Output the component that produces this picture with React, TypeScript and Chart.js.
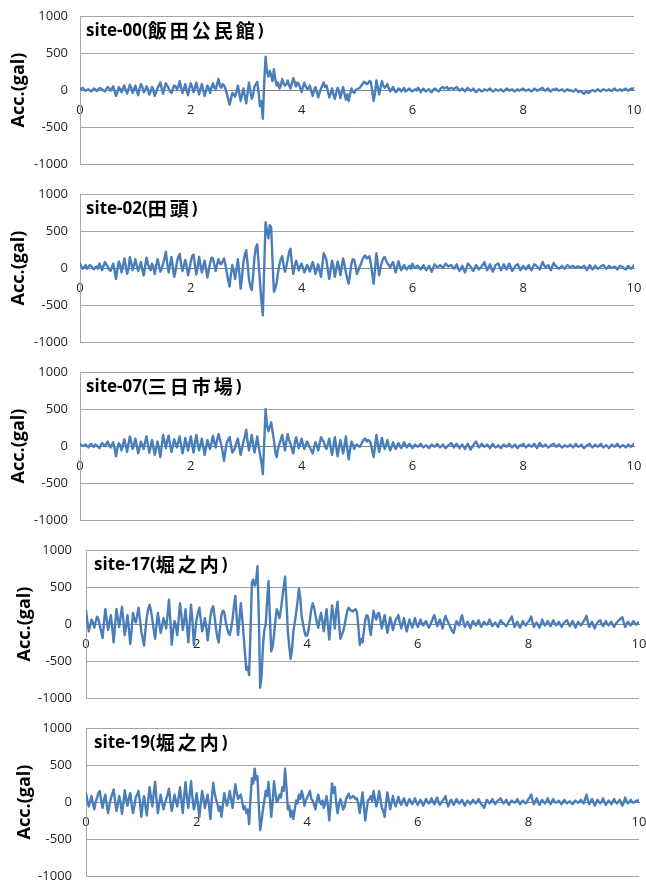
import React, { useEffect, useRef } from "react";
import { Chart, registerables } from "chart.js";

Chart.register(...registerables);

// sample interval of the records (s)
const DT = 0.025;
const X_MIN = 0;
const X_MAX = 10;
const X_STEP = 2;
const Y_MIN = -1000;
const Y_MAX = 1000;
const Y_STEP = 500;
const Y_TITLE = "Acc.(gal)";

const SITE_NAMES = [
  "site-00(飯田公民館)",
  "site-02(田頭)",
  "site-07(三日市場)",
  "site-17(堀之内)",
  "site-19(堀之内)",
];

// acceleration (gal), one value every DT seconds from 0 to 10 s (one row per second)
const SITE00 = [
  0, 20, 30, 5, -10, 0, 10, -5, -20, 0, 20, 10, -15, 5, 25, 20, 10, -10, -20, 15, 40, 25, -10, 20, 50, -20, -80, -30, 40, 10, -30, 20, 60, 0, -50, 10, 70, 30, -40, 10,
  60, -10, -70, 20, 80, 40, -30, -10, 50, 10, -60, -20, 40, 0, -80, -30, 30, 60, 100, 20, -50, 30, 90, 60, 20, -20, -40, 10, 60, 50, 10, 40, 120, 30, -40, 20, 80, -10, -70, 30,
  90, 40, -30, 30, 100, 10, -60, 20, 80, -10, -80, -10, 60, 20, -40, 40, 90, 30, 10, 80, 150, 60, 30, 80, 60, 20, -50, -120, -200, -120, -40, -60, -90, -20, 60, -40, -150, -60, 20, -80,
  -180, -40, 100, -20, -120, -60, 50, 80, 110, -40, -220, -150, -390, 100, 450, 250, 180, 260, 200, 120, 280, 150, 60, 100, 20, 60, 150, 90, 60, 80, 130, 60, 20, 90, 160, 110, 50, 100, 80, 30,
  -30, 40, 100, 50, 10, 20, 60, -20, -80, -10, 40, -30, -100, -40, 20, 60, 100, 40, 60, -20, -100, -50, 20, -60, -120, -40, 30, -20, -110, -30, 40, -50, -130, -60, -150, -60, 20, -20, -40, 0,
  10, 20, 30, 60, 80, 110, 100, 80, 90, 120, 110, -20, -150, -40, 130, 40, -60, 30, 120, 60, 30, 50, 80, 20, -20, 10, 40, 0, -30, -10, 20, 10, -20, 0, 30, -20, -10, 10, 20, -10,
  -20, 0, 10, -10, 30, 10, -30, 0, 20, -10, -20, 0, 10, -20, -30, 0, 20, 10, -10, -20, 10, 30, 40, 20, 30, 40, 10, 20, 30, 20, 10, 30, 40, 10, -10, 10, 20, 0, -20, 10,
  30, 10, -10, 0, 20, -10, -30, -10, 10, 0, -20, -10, 10, 0, -10, 10, 20, 0, -20, -10, 10, 0, -10, 0, 10, -10, -20, 0, 20, 10, -10, 0, 10, -10, -20, 0, 10, -10, 0, 10,
  20, 0, -10, 0, 10, -10, -20, 0, 20, 10, -10, 0, 10, 20, 30, 0, -10, 10, 20, -10, -20, 0, 10, 0, 20, 0, -10, 0, 10, -10, -20, 0, 10, -10, 0, -10, -20, -10, 10, -10,
  -30, -10, -20, -40, -50, -30, -20, -40, -30, -10, 0, -10, -20, 0, 10, -10, -20, 0, 10, 0, -10, 0, 10, -10, -10, 10, 20, 0, -10, 0, 10, -10, 0, 10, 20, 0, -10, 10, 20, 10, 30,
];

const SITE02 = [
  60, 20, -10, 10, 40, -10, 10, 40, 30, 0, -20, 10, 20, -10, 60, 20, -30, 30, 80, 50, 20, -20, -40, 10, 60, -40, -150, -20, 90, 40, -60, 20, 130, 30, -80, -20, 150, 70, -30, 40,
  120, 30, -40, 20, 80, -20, -100, 20, 140, 60, 0, -30, 60, 10, -80, 30, 120, 40, -50, -10, 60, 130, 220, 60, -60, 40, 150, 20, -120, -40, 80, 150, 190, 50, -40, 30, 110, 20, -100, -20,
  90, 160, 180, 40, -90, 20, 150, 40, -60, 30, 100, -20, -130, -30, 70, 140, 130, 40, -40, 50, 120, 60, 50, 90, 130, 40, -60, -170, -250, -80, 40, -40, -150, -20, 120, -60, -280, -120, 80, 180,
  240, 60, -150, -250, -300, -100, 150, 280, 320, 50, -200, -450, -640, 0, 620, 500, 400, 580, 550, 100, -320, -280, -200, -60, 50, 120, 160, 40, -50, 20, 120, 220, 260, 60, -80, 20, 100, 40, -30, 20,
  60, 0, -60, -10, 40, 0, -50, 20, 80, 10, -80, -20, 50, -40, -120, 40, 200, 160, 100, -40, -150, -20, 100, 20, -120, -20, 90, 10, -100, 20, 130, 40, -60, -150, -210, -80, 60, 120, 110, 20,
  -80, -30, 20, 60, 120, 150, 170, 130, 140, 160, 60, -80, -210, -20, 200, 60, -100, 0, 80, 130, 150, 100, 60, 40, 10, 50, 80, 10, -60, 20, 90, 20, -30, 10, 40, 0, -20, 10, 30, -10,
  60, 20, 0, 20, 30, 0, -20, 10, 40, 0, -30, 0, 30, -10, -50, 0, 50, 30, 10, 20, 40, 20, 0, 30, 60, 40, 20, 30, 40, 10, -10, 20, 50, 0, -40, -10, 30, -20, -60, 0,
  60, 40, 20, -10, -40, 0, 40, 10, -20, 0, 20, 50, 80, 20, -30, 10, 50, 0, -50, -10, 40, 50, 60, 10, -30, 10, 50, 10, -20, 20, 60, 10, -40, -10, 20, 40, 50, 10, -30, 0,
  30, 0, -20, 10, 40, 0, -30, 10, 50, 40, 20, 0, -20, 30, 80, 40, 10, 20, 40, 0, -30, 20, 70, 40, 20, 0, -10, 10, 30, 0, -10, 20, 40, 20, 10, 20, 30, 10, 0, 20,
  20, 10, 0, 20, 30, 0, -30, 10, 40, 10, -20, 0, 30, 10, -10, 0, 20, 30, 40, 10, -10, 10, 30, 10, 0, 10, 20, 0, -20, 10, 30, 20, 10, -10, -20, 10, 30, 0, -10, 10, 40,
];

const SITE07 = [
  30, 10, 0, 10, 20, 0, -20, 10, 30, 0, -10, 20, 10, -10, -30, 10, 40, 20, 0, 30, 60, 10, -20, 20, 50, -40, -140, -30, 40, 10, -60, 20, 90, 10, -80, 30, 130, 50, -40, 20,
  100, 0, -100, -20, 60, 10, -40, 50, 130, 20, -90, -10, 80, -20, -120, -30, 60, -40, -150, 0, 150, 60, -30, 70, 140, 20, -80, 0, 90, 30, -20, 60, 130, 10, -100, -10, 110, 30, -60, 40,
  130, 10, -90, 40, 150, 30, -60, 20, 100, -10, -120, -20, 80, 10, -40, 50, 140, 40, -20, 80, 160, 90, 20, -80, -200, -60, 40, 90, 120, 10, -90, -60, -20, 50, 100, -10, -120, -30, 60, 120,
  220, 60, -60, 40, 150, 20, -90, 20, 130, 0, -120, -220, -380, 50, 500, 280, 200, 260, 320, 200, 80, -80, -150, -40, 30, 90, 150, 40, -60, 60, 160, 80, 30, -40, -100, 20, 120, 40, -30, 30,
  100, 20, -40, 10, 60, 20, -20, -60, -100, -20, 50, 0, -60, 30, 120, 80, 60, -10, -40, 30, 100, -20, -120, 0, 120, -10, -140, -20, 80, -10, -100, 10, 130, -40, -180, -50, 60, 20, -40, 10,
  20, 0, -10, 20, 60, 90, 100, 60, 80, 70, 30, -60, -150, -10, 150, 30, -80, 20, 110, 20, -40, 20, 80, 0, -60, -10, 50, 0, -40, 10, 40, 0, -30, 10, 50, 10, -20, 10, 30, 0,
  -30, 0, 20, 0, -10, 10, 30, 0, -20, 0, 10, -10, -30, 0, 20, 0, -10, 10, 30, 0, -20, 0, 20, -10, -30, -10, 10, 20, 40, 10, -20, 10, 30, 0, -30, 0, 20, -10, -40, 0,
  30, -10, -50, -20, 10, 40, 60, 20, -20, 0, 30, 10, -10, 0, 20, 0, -30, 0, 30, 0, -20, -10, 10, -10, -30, 0, 20, 0, -10, 10, 30, 0, -20, 0, 20, -10, -30, 0, 10, 0,
  30, 0, -20, 0, 20, 0, -10, 10, 30, 0, -30, 10, 40, 10, -10, 0, 20, 0, -20, -10, 10, 20, 30, 0, -10, 10, 20, 0, -20, -10, 10, 0, -10, 0, 20, 0, -20, 0, 30, 0,
  -10, 0, 20, -10, -30, -10, 10, 20, 30, 0, -20, 0, 20, 0, -10, 10, 30, 0, -20, 0, 10, -10, -30, 0, 20, 0, -10, 10, 30, 0, -20, 0, 10, 0, -20, 0, 20, 0, -10, 10, 30,
];

const SITE17 = [
  180, 40, -100, -20, 60, 20, -50, 30, 100, 60, -20, -100, -190, 20, 200, 60, -80, 20, 120, -60, -250, -20, 200, 80, -40, 100, 230, 50, -150, -30, 120, -60, -270, -80, 150, 60, 20, 120, 220, 60,
  -100, -200, -290, -80, 100, 200, 260, 180, 60, -80, -200, -20, 150, 20, -120, -40, 80, 20, -60, 120, 330, 50, -280, -100, 40, -20, -150, 60, 280, 120, -80, 40, 200, -20, -250, 0, 260, 40, -280, -100,
  60, 150, 220, 60, -100, -20, 80, -40, -220, -60, 100, 200, 240, 100, -60, -180, -250, -40, 120, 180, 160, 40, -50, -120, -150, -60, 60, 240, 380, 100, -150, 60, 280, 80, -150, -400, -620, -580, -690, -100,
  560, 600, 520, 560, 780, 100, -860, -700, -300, -80, 0, 300, 580, 100, -370, -300, -150, 50, 200, 150, 80, 200, 350, 500, 640, 300, -100, -300, -470, -350, -100, 20, 150, 300, 480, 350, 100, 0, -100, -160,
  -150, -80, 60, 200, 280, 220, 120, 20, -50, 60, 150, 40, -100, 60, 200, -20, -210, 40, 250, 100, -60, 180, 300, 20, -200, -150, -100, -20, 80, 180, 220, 190, 180, 170, 190, 200, 160, -40, -280, -200,
  -250, -100, 60, 120, 100, -40, -150, 20, 180, 100, 60, 140, 150, 40, -60, 40, 120, 0, -120, -20, 90, 20, -80, -10, 60, 80, 120, 20, -60, 10, 80, -20, -100, -20, 60, 0, -50, 20, 80, 0,
  -40, 10, 60, 0, -20, 20, 40, -10, -50, -10, 30, 80, 120, 40, -30, 20, 60, 0, -60, 40, 110, 60, 20, -20, -60, -100, -120, -30, 40, 10, -20, 60, 120, 30, -40, -10, 30, -10, -60, 0,
  40, 10, -20, 10, 50, 0, -40, 0, 30, 0, -10, 20, 60, 10, -30, 0, 20, -10, -40, 10, 50, 20, 10, -10, -30, 0, 40, 70, 100, 20, -40, 0, 30, -20, -50, -10, 40, 0, -20, 10,
  30, 60, 100, 20, -40, 0, 20, -20, -50, 0, 60, 10, -20, 10, 40, 0, -30, 10, 50, 10, -20, 0, 30, -10, -40, 0, 20, 40, 50, 0, -30, 10, 40, 0, -50, -10, 30, 0, -20, 10,
  40, 70, 110, 20, -40, 0, 30, -20, -60, -10, 20, 40, 50, 0, -30, 10, 40, 0, -20, 10, 30, -10, -40, 0, 20, 40, 60, 80, 90, 20, -40, 0, 30, 0, -20, 10, 40, 10, -10, 10, 30,
];

const SITE19 = [
  120, 20, -60, 10, 80, -20, -100, 0, 60, 120, 150, 20, -80, 30, 100, -40, -150, -30, 50, 110, 170, 20, -120, -40, 80, 0, -160, -20, 160, 40, -50, 60, 120, -30, -150, -50, 60, 100, 150, 0,
  -200, -40, 80, -60, -180, 20, 200, 60, -60, 120, 270, 40, -150, -20, 100, 0, -100, -30, 40, 100, 180, 20, -120, -20, 100, 20, -60, 60, 200, 20, -150, 80, 270, 60, -80, 100, 280, 60, -100, -20,
  120, -40, -200, -20, 150, 40, -80, 20, 100, -60, -230, 40, 260, 120, 40, -20, -120, -60, -200, -40, 120, 20, -50, 40, 150, 30, -80, 80, 240, 120, 40, 80, 100, 0, -100, -60, -150, -100, -300, 50,
  320, 250, 450, 300, 350, -50, -380, -250, -100, 20, 150, 80, 270, 50, -200, 0, 280, 120, 0, 30, 100, 60, 200, 150, 450, 200, -100, -50, -200, -120, -230, -100, 20, -20, 100, 40, 150, 80, -50, 20,
  60, 100, 150, 40, 20, -40, -100, 20, 100, 10, -30, 20, -80, -20, 80, -60, -250, 0, 250, 120, 200, -20, -150, -30, 40, -20, -100, -60, 30, 80, 110, 50, 60, 80, 70, 40, 50, -30, -150, -20,
  130, -60, -250, -100, 20, 40, 80, 10, 150, 40, -60, 20, 150, 40, -80, -120, -200, -20, 130, 20, -100, -10, 80, 0, -60, 10, 70, 0, -40, 10, 50, -10, -50, 0, 40, 0, -30, 10, 50, 0,
  -40, 0, 30, -10, -50, 0, 40, 0, -20, 10, 50, 0, -30, 20, 60, 0, -40, -10, 20, 40, 80, 0, -60, -10, 30, 0, -40, 0, 40, 10, -20, 0, 30, -10, -50, -10, 20, 0, -30, 0,
  30, 0, -20, 10, 40, 0, -30, -50, -80, -20, 30, 0, -20, 10, 40, 0, -30, 0, 20, 30, 50, 10, -20, 0, 30, -10, -40, 0, 20, 0, -10, 10, 40, 0, -30, 0, 20, 0, -20, 0,
  40, 60, 100, 20, -30, 10, 50, 0, -40, 0, 30, 0, -20, 10, 50, 0, -30, 10, 40, 0, -10, 0, 20, -10, -30, 0, 30, 0, -20, 0, 10, -10, -30, 0, 20, 0, -10, 10, 30, 0,
  -20, 40, 100, 20, -30, 0, 40, 0, -50, -10, 30, 0, -20, 10, 50, 0, -40, -10, 20, 0, -30, 10, 40, 0, -20, 0, 30, -10, -50, 0, 60, 10, -20, 0, 30, 0, -10, 0, 20, 10, 30,
];

const SERIES = [SITE00, SITE02, SITE07, SITE17, SITE19];

// ---- layout / style (not data) ----
const PAGE_W = 646;
const PAGE_H = 883;
const CANVAS_W = 660;
const PAD_V = 24;
const LINE_COLOR = "#4a7ebb";
const GRID_COLOR = "#a6a6a6";
const ZERO_COLOR = "#868686";
const TEXT_COLOR = "#262626";
const LATIN_FONT = '"Open Sans", "Liberation Sans", sans-serif';
const CJK_FONT = '"Noto Sans CJK JP", "Noto Sans CJK SC", sans-serif';

type Geom = {
  top: number;
  bottom: number;
  left: number;
  right: number;
  titleDx: number;
  tickPad: number;
  axisTitlePad: number;
};

const GEOMS: Geom[] = [
  { top: 16, bottom: 164, left: 80, right: 634, titleDx: 6, tickPad: 12, axisTitlePad: 8 },
  { top: 194, bottom: 342, left: 80, right: 634, titleDx: 6, tickPad: 12, axisTitlePad: 8 },
  { top: 372, bottom: 520, left: 80, right: 634, titleDx: 6, tickPad: 12, axisTitlePad: 8 },
  { top: 550, bottom: 698, left: 86, right: 639, titleDx: 8, tickPad: 14, axisTitlePad: 14 },
  { top: 728, bottom: 876, left: 86, right: 639, titleDx: 8, tickPad: 14, axisTitlePad: 14 },
];

function Panel({ values, name, g }: { values: number[]; name: string; g: Geom }) {
  const ref = useRef<HTMLCanvasElement | null>(null);
  const h = g.bottom - g.top + 2 * PAD_V;

  useEffect(() => {
    const canvas = ref.current;
    if (!canvas) return;
    const points = values.map((v, i) => ({ x: Math.round(i * DT * 1000) / 1000, y: v }));

    const titlePlugin = {
      id: "siteTitle",
      afterDatasetsDraw(chart: any) {
        const { ctx, chartArea } = chart;
        let x = chartArea.left + g.titleDx;
        const y = chartArea.top + 15;
        ctx.save();
        ctx.fillStyle = "#000";
        ctx.textBaseline = "middle";
        ctx.textAlign = "left";
        for (const ch of Array.from(name)) {
          const cjk = ch.charCodeAt(0) > 0x2e80;
          ctx.font = cjk ? `bold 19px ${CJK_FONT}` : `bold 17px ${LATIN_FONT}`;
          ctx.fillText(ch, x, y);
          x += ctx.measureText(ch).width + (cjk ? 3 : 0);
        }
        ctx.restore();
      },
    };

    const chart = new Chart(canvas, {
      type: "line",
      data: {
        datasets: [
          {
            data: points,
            borderColor: LINE_COLOR,
            borderWidth: 2.4,
            borderJoinStyle: "round",
            borderCapStyle: "round",
            pointRadius: 0,
            tension: 0,
            fill: false,
          },
        ],
      },
      options: {
        animation: false,
        responsive: false,
        devicePixelRatio: 1,
        layout: {
          padding: { top: PAD_V, bottom: PAD_V, left: 0, right: CANVAS_W - g.right },
        },
        plugins: {
          legend: { display: false },
          tooltip: { enabled: false },
        },
        scales: {
          x: {
            type: "linear",
            min: X_MIN,
            max: X_MAX,
            position: { y: 0 } as any,
            grid: { display: false, drawTicks: false },
            border: { display: true, color: ZERO_COLOR, width: 1 },
            ticks: {
              stepSize: X_STEP,
              padding: 12,
              color: TEXT_COLOR,
              autoSkip: false,
              maxRotation: 0,
              font: { family: LATIN_FONT, size: 13 },
              callback: (v: any) => String(v),
            },
            afterFit: (s: any) => {
              s.height = 0;
            },
          },
          y: {
            type: "linear",
            min: Y_MIN,
            max: Y_MAX,
            grid: { color: GRID_COLOR, drawTicks: false },
            border: { display: true, color: GRID_COLOR, width: 1 },
            ticks: {
              stepSize: Y_STEP,
              padding: g.tickPad,
              color: TEXT_COLOR,
              font: { family: LATIN_FONT, size: 13 },
              callback: (v: any) => String(v),
            },
            title: {
              display: true,
              text: Y_TITLE,
              color: "#000",
              font: { family: LATIN_FONT, size: 18, weight: "bold" },
              padding: { top: g.axisTitlePad, bottom: 0 },
            },
            afterFit: (s: any) => {
              s.width = g.left;
            },
          },
        },
      } as any,
      plugins: [titlePlugin],
    });
    return () => chart.destroy();
  }, [values, name, g]);

  return (
    <canvas
      ref={ref}
      width={CANVAS_W}
      height={h}
      style={{
        position: "absolute",
        left: 0,
        top: g.top - PAD_V,
        width: CANVAS_W,
        height: h,
        display: "block",
      }}
    />
  );
}

export default function App() {
  return (
    <div
      style={{
        position: "absolute",
        left: 0,
        top: 0,
        width: PAGE_W,
        height: PAGE_H,
        overflow: "hidden",
        background: "#fff",
      }}
    >
      {SERIES.map((vals, i) => (
        <Panel key={i} values={vals} name={SITE_NAMES[i]} g={GEOMS[i]} />
      ))}
    </div>
  );
}
